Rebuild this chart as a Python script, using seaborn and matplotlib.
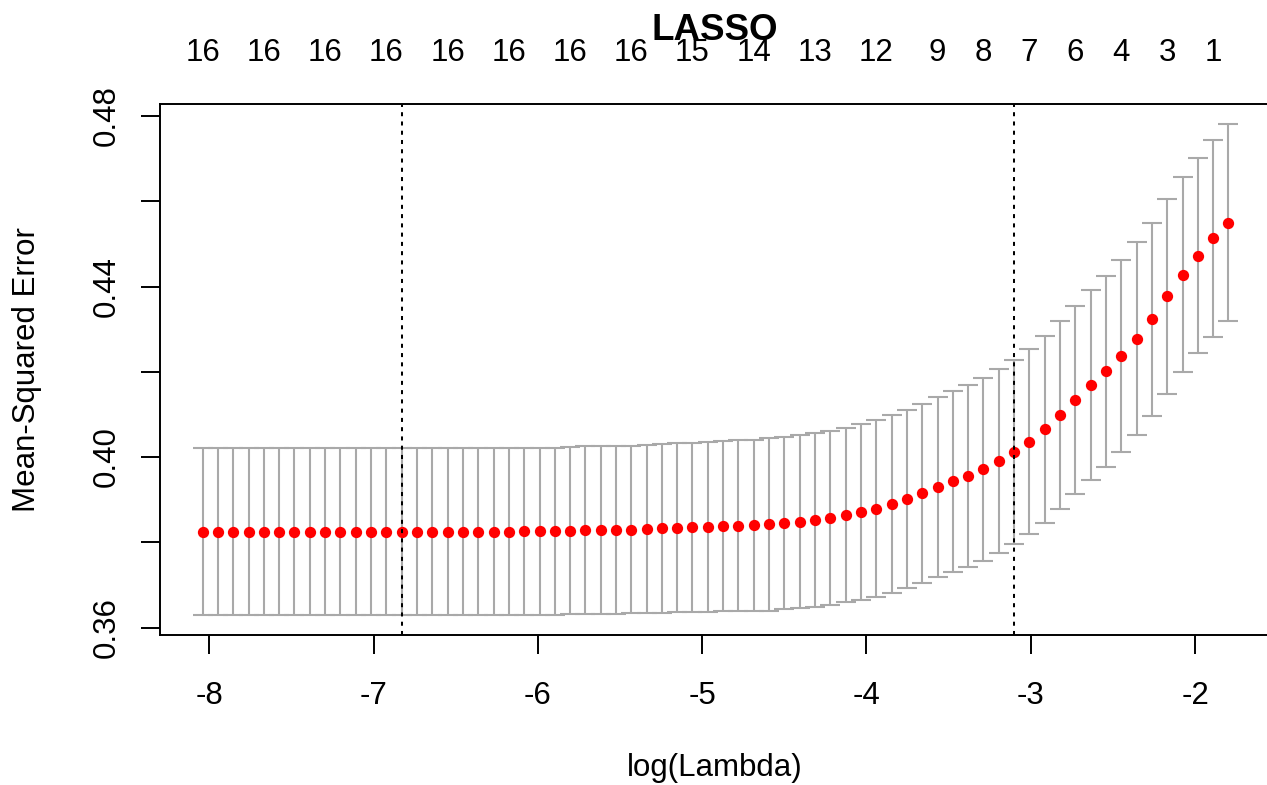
import matplotlib
matplotlib.use("Agg")
import matplotlib.pyplot as plt
from matplotlib import transforms
import numpy as np
import pandas as pd
import seaborn as sns

# ---------------- data ----------------
log_lambda = [
    -8.041, -7.948, -7.854, -7.761, -7.668, -7.575, -7.482, -7.388, -7.295, -7.202,
    -7.109, -7.016, -6.922, -6.829, -6.736, -6.643, -6.550, -6.456, -6.363, -6.270,
    -6.177, -6.084, -5.990, -5.897, -5.804, -5.711, -5.618, -5.525, -5.431, -5.338,
    -5.245, -5.152, -5.059, -4.965, -4.872, -4.779, -4.686, -4.593, -4.499, -4.406,
    -4.313, -4.220, -4.127, -4.033, -3.940, -3.847, -3.754, -3.661, -3.567, -3.474,
    -3.381, -3.288, -3.195, -3.101, -3.008, -2.915, -2.822, -2.729, -2.635, -2.542,
    -2.449, -2.356, -2.263, -2.169, -2.076, -1.983, -1.890, -1.797,
]

cv_mean = [
    0.3825, 0.3825, 0.3825, 0.3825, 0.3825, 0.3825, 0.3825, 0.3825, 0.3825, 0.3825,
    0.3825, 0.3825, 0.3825, 0.3825, 0.3825, 0.3825, 0.3825, 0.3825, 0.3825, 0.3825,
    0.3825, 0.3826, 0.3826, 0.3826, 0.3827, 0.3828, 0.3829, 0.3829, 0.3830, 0.3831,
    0.3833, 0.3834, 0.3835, 0.3836, 0.3838, 0.3839, 0.3840, 0.3842, 0.3845, 0.3848,
    0.3852, 0.3858, 0.3864, 0.3871, 0.3879, 0.3890, 0.3901, 0.3915, 0.3929, 0.3943,
    0.3956, 0.3971, 0.3991, 0.4011, 0.4036, 0.4065, 0.4099, 0.4134, 0.4169, 0.4201,
    0.4237, 0.4278, 0.4323, 0.4377, 0.4428, 0.4472, 0.4513, 0.4550,
]

cv_sd = [
    0.0196, 0.0196, 0.0196, 0.0196, 0.0196, 0.0196, 0.0196, 0.0196, 0.0196, 0.0196,
    0.0196, 0.0196, 0.0196, 0.0196, 0.0196, 0.0196, 0.0196, 0.0196, 0.0196, 0.0196,
    0.0196, 0.0196, 0.0196, 0.0196, 0.0196, 0.0197, 0.0197, 0.0197, 0.0197, 0.0197,
    0.0198, 0.0198, 0.0198, 0.0199, 0.0200, 0.0200, 0.0201, 0.0202, 0.0202, 0.0203,
    0.0204, 0.0204, 0.0205, 0.0206, 0.0207, 0.0208, 0.0209, 0.0210, 0.0211, 0.0212,
    0.0213, 0.0214, 0.0215, 0.0216, 0.0217, 0.0219, 0.0220, 0.0221, 0.0223, 0.0224,
    0.0225, 0.0226, 0.0226, 0.0228, 0.0228, 0.0229, 0.0231, 0.0232,
]

# number of non-zero coefficients shown on the top axis (at these lambda indices)
nz_label_idx = [0, 4, 8, 12, 16, 20, 24, 28, 32, 36, 40, 44, 48, 51, 54, 57, 60, 63, 66]
nz_labels = ["16", "16", "16", "16", "16", "16", "16", "16", "15", "14",
             "13", "12", "9", "8", "7", "6", "4", "3", "1"]

log_lambda_min = -6.829
log_lambda_1se = -3.101

x_ticks = [-8, -7, -6, -5, -4, -3, -2]
y_ticks = [0.36, 0.38, 0.40, 0.42, 0.44, 0.46, 0.48]
y_tick_labels = ["0.36", "", "0.40", "", "0.44", "", "0.48"]

title = "LASSO"
x_label = "log(Lambda)"
y_label = "Mean-Squared Error"

# ---------------- plotting ----------------
sns.set_theme(style="white")
plt.rcParams["font.family"] = ["Liberation Sans", "DejaVu Sans"]

df = pd.DataFrame({"log_lambda": log_lambda, "mse": cv_mean, "sd": cv_sd})

W, H = 1267, 785
fig = plt.figure(figsize=(W / 100, H / 100), dpi=100)
ax_left, ax_right, ax_top, ax_bottom = 160, 1269, 104.1, 634.8
ax = fig.add_axes([ax_left / W, 1 - ax_bottom / H,
                   (ax_right - ax_left) / W, (ax_bottom - ax_top) / H])

ax.errorbar(df["log_lambda"], df["mse"], yerr=df["sd"], fmt="none",
            ecolor="darkgrey", elinewidth=1.5, capsize=7.5, capthick=1.5,
            zorder=2)
sns.scatterplot(data=df, x="log_lambda", y="mse", ax=ax, color="red",
                s=66, linewidth=0, zorder=3, legend=False)

for xv in (log_lambda_min, log_lambda_1se):
    ax.axvline(xv, color="black", lw=1.45, linestyle=(0, (2, 2.6)), zorder=4)

ax.set_xlim(-8.30, -1.55)
ax.set_ylim(0.3583, 0.4828)

fs = 22.5
ax.set_xticks(x_ticks)
ax.set_xticklabels([str(v) for v in x_ticks], fontsize=fs)
ax.set_yticks(y_ticks)
ax.set_yticklabels(y_tick_labels, fontsize=fs, rotation=90)
for lbl in ax.get_yticklabels():
    lbl.set_va("center")
ax.tick_params(axis="x", direction="out", length=13.5, width=1.4, pad=20,
               colors="black", bottom=True)
ax.tick_params(axis="y", direction="out", length=13.5, width=1.4, pad=14,
               colors="black", left=True)

for sp in ax.spines.values():
    sp.set_color("black")
    sp.set_linewidth(1.4)

ax.set_xlabel(x_label, fontsize=fs, color="black")
ax.set_ylabel(y_label, fontsize=fs, color="black")
ax.xaxis.set_label_coords(0.5, -(753 - ax_bottom) / (ax_bottom - ax_top))
ax.yaxis.set_label_coords(-(ax_left - 41.7) / (ax_right - ax_left), 0.5)

# top axis: number of non-zero coefficients
blend = transforms.blended_transform_factory(ax.transData, fig.transFigure)
for idx, lab in zip(nz_label_idx, nz_labels):
    ax.text(log_lambda[idx], 1 - 60.7 / H, lab, transform=blend,
            ha="center", va="baseline", fontsize=fs, color="black")

fig.text((ax_left + ax_right) / 2 / W, 1 - 40 / H, title, ha="center",
         va="baseline", fontsize=26.5, fontweight="bold", color="black")

fig.savefig("out.png", dpi=100)
